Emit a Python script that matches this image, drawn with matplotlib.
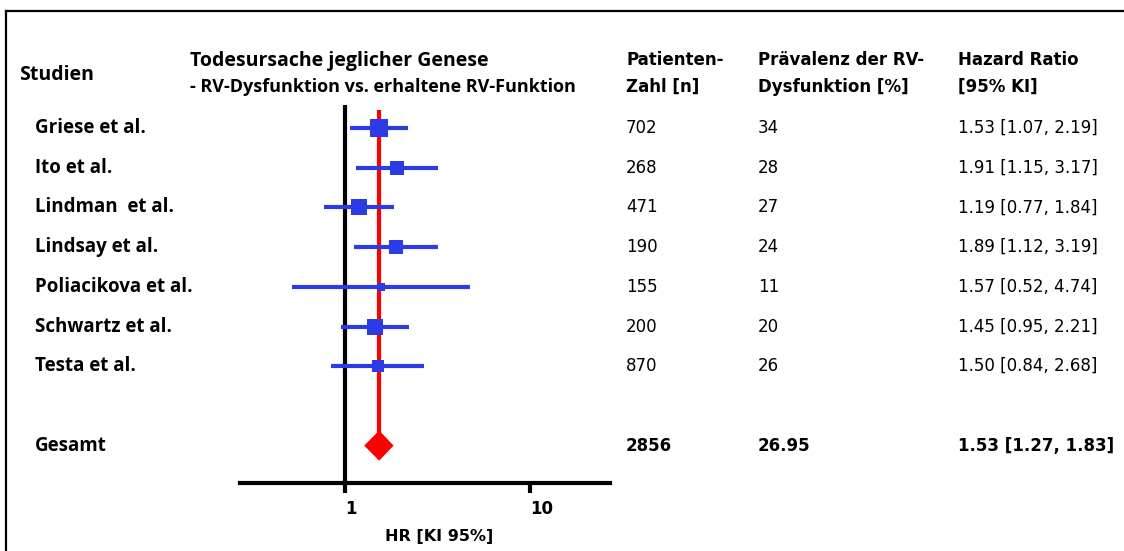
import numpy as np
import matplotlib
matplotlib.use("Agg")
import matplotlib.pyplot as plt
from matplotlib.lines import Line2D
import matplotlib.transforms as mtransforms

# -----------------------
# DATA
# -----------------------
studies = ["Griese et al.", "Ito et al.", "Lindman  et al.", "Lindsay et al.",
           "Poliacikova et al.", "Schwartz et al.", "Testa et al."]
patients = [702, 268, 471, 190, 155, 200, 870]
prevalence = [34, 28, 27, 24, 11, 20, 26]
hr = [1.53, 1.91, 1.19, 1.89, 1.57, 1.45, 1.50]
ci_low = [1.07, 1.15, 0.77, 1.12, 0.52, 0.95, 0.84]
ci_high = [2.19, 3.17, 1.84, 3.19, 4.74, 2.21, 2.68]

total_label = "Gesamt"
total_patients = 2856
total_prevalence = 26.95
pooled_hr = 1.53
pooled_low = 1.27
pooled_high = 1.83

x_ticks = [1, 10]

# -----------------------
# FIGURE
# -----------------------
W, H = 1124, 551
fig = plt.figure(figsize=(W / 100, H / 100), dpi=100)

BLUE = "#2b3be6"
RED = "#ff0000"
label_font = ["Open Sans", "DejaVu Sans"]
num_font = ["DejaVu Sans"]


def px(x0, y0, w, h):
    return [x0 / W, 1 - (y0 + h) / H, w / W, h / H]


# axes: x from 240 to 610 px, bottom spine at y=483 px
ax = fig.add_axes(px(240, 95, 370, 388))
ax.set_xscale("log")
ax.set_xlim(10 ** ((240 - 345) / 185), 10 ** ((610 - 345) / 185))
row_step = 39.7
ax.set_ylim((483 - 128) / row_step, (95 - 128) / row_step)

rows = np.arange(len(studies))
total_row = len(studies) + 1

# null line and pooled line
ax.plot([1, 1], [-0.58, ax.get_ylim()[0]], color="black", lw=3, zorder=2,
        solid_capstyle="butt", clip_on=False)
ax.plot([pooled_hr, pooled_hr], [-0.45, total_row], color=RED, lw=3, zorder=3,
        solid_capstyle="butt")

# study CIs and boxes, box size from inverse variance weight
se = (np.log(ci_high) - np.log(ci_low)) / 3.92
w = 1 / se ** 2
box_px = 5 + 2.4 * np.sqrt(w / w.sum() * 100)
for i in rows:
    ax.plot([ci_low[i], ci_high[i]], [i, i], color=BLUE, lw=3, zorder=4,
            solid_capstyle="butt", clip_on=False)
    ax.plot(hr[i], i, marker="s", ms=box_px[i] * 0.72, color=BLUE, mew=0, zorder=5)

# pooled diamond
dh = 0.38
ax.fill([pooled_low, pooled_hr, pooled_high, pooled_hr],
        [total_row, total_row - dh, total_row, total_row + dh],
        color=RED, zorder=6, lw=0)

# axis styling
for s in ["top", "left", "right"]:
    ax.spines[s].set_visible(False)
ax.spines["bottom"].set_linewidth(3)
ax.set_yticks([])
ax.set_xticks(x_ticks)
ax.set_xticklabels([str(t) for t in x_ticks], fontfamily=num_font,
                   fontweight="bold", fontsize=12)
ax.xaxis.set_minor_locator(matplotlib.ticker.NullLocator())
ax.tick_params(axis="x", direction="out", length=7, width=3, pad=5)
for lbl in ax.get_xticklabels():
    lbl.set_horizontalalignment("left")
ax.set_xlabel("HR [KI 95%]", fontfamily=num_font, fontweight="bold",
              fontsize=11.5)
ax.xaxis.set_label_coords(0.538, -0.118)

# -----------------------
# TEXT COLUMNS
# -----------------------
tr = mtransforms.blended_transform_factory(fig.transFigure, ax.transData)


def fx(x):
    return x / W


def fy(y):
    return 1 - y / H


lab = dict(va="center", ha="left", fontfamily=label_font, fontweight="bold",
           fontsize=13.5)
num = dict(va="center", ha="left", fontfamily=num_font, fontsize=12)

for i in rows:
    ax.text(fx(35), i, studies[i], transform=tr, **lab)
    ax.text(fx(626), i, str(patients[i]), transform=tr, **num)
    ax.text(fx(758), i, str(prevalence[i]), transform=tr, **num)
    ax.text(fx(958), i, f"{hr[i]:.2f} [{ci_low[i]:.2f}, {ci_high[i]:.2f}]",
            transform=tr, **num)

ax.text(fx(35), total_row, total_label, transform=tr, **lab)
ax.text(fx(626), total_row, str(total_patients), transform=tr,
        fontweight="bold", **num)
ax.text(fx(758), total_row, f"{total_prevalence:.2f}", transform=tr,
        fontweight="bold", **num)
ax.text(fx(958), total_row, f"{pooled_hr:.2f} [{pooled_low:.2f}, {pooled_high:.2f}]",
        transform=tr, fontweight="bold", **num)

# headers
hdr = dict(va="center", ha="left", fontweight="bold", fontsize=12,
           fontfamily=num_font)
fig.text(fx(19), fy(75), "Studien", va="center", ha="left",
         fontfamily=label_font, fontweight="bold", fontsize=14)
fig.text(fx(190), fy(61), "Todesursache jeglicher Genese", va="center",
         ha="left", fontfamily=label_font, fontweight="bold", fontsize=14)
fig.text(fx(190), fy(87), "- RV-Dysfunktion vs. erhaltene RV-Funktion",
         va="center", ha="left", fontfamily=label_font, fontweight="bold",
         fontsize=13)
fig.text(fx(626), fy(60), "Patienten-", **hdr)
fig.text(fx(626), fy(87), "Zahl [n]", **hdr)
fig.text(fx(758), fy(60), "Prävalenz der RV-", **hdr)
fig.text(fx(758), fy(87), "Dysfunktion [%]", **hdr)
fig.text(fx(958), fy(60), "Hazard Ratio", **hdr)
fig.text(fx(958), fy(87), "[95% KI]", **hdr)

# frame lines (top and left)
fig.add_artist(Line2D([fx(6), 1], [fy(11), fy(11)], color="black", lw=1.6))
fig.add_artist(Line2D([fx(6), fx(6)], [fy(11), 0], color="black", lw=1.6))

fig.savefig("out.png", dpi=100)
